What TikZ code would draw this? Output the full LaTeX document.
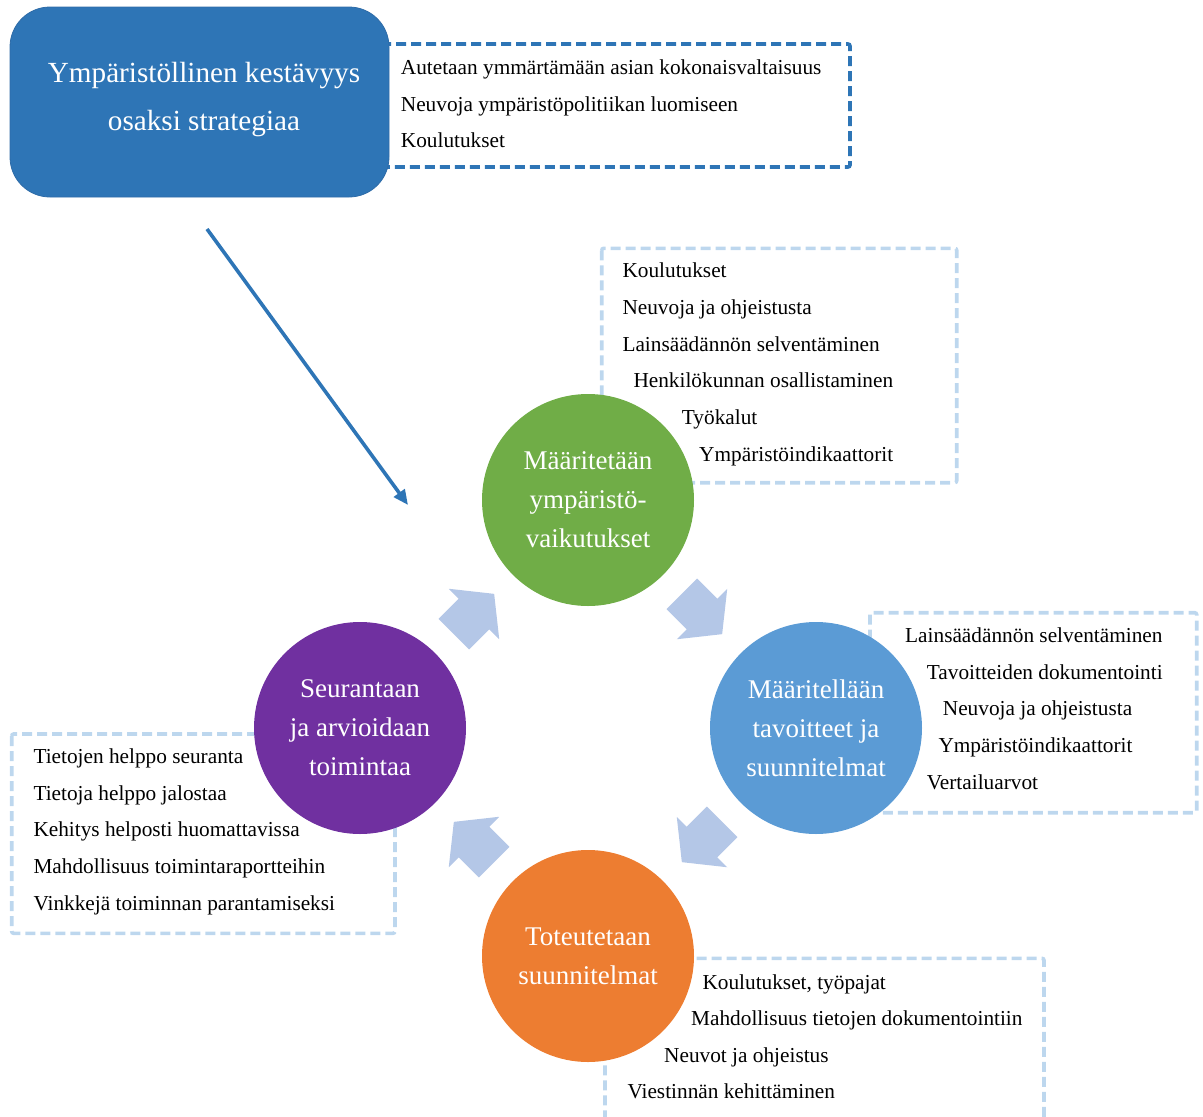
\documentclass[tikz,border=0pt]{standalone}
\usepackage{fontspec}
\setmainfont{Liberation Serif}
\usetikzlibrary{arrows.meta}
\definecolor{stratblue}{HTML}{2E75B6}
\definecolor{stratedge}{HTML}{2F6CA8}
\definecolor{lightdash}{HTML}{BDD7EE}
\definecolor{chevron}{HTML}{B4C7E7}
\definecolor{stgreen}{HTML}{70AD47}
\definecolor{stblue}{HTML}{5B9BD5}
\definecolor{stpurple}{HTML}{7030A0}
\definecolor{storange}{HTML}{ED7D31}
\begin{document}
\begin{tikzpicture}[x=1pt,y=-1pt,
  item/.style={anchor=base west, inner sep=0pt, font=\fontsize{21.3}{25}\selectfont},
  darkbox/.style={draw=stratblue, line width=3.6pt, dash pattern=on 10pt off 5pt, rounded corners=2pt},
  lightbox/.style={draw=lightdash, line width=3.6pt, dash pattern=on 10pt off 5pt, rounded corners=2pt},
  stage/.style={circle, minimum size=212pt, inner sep=0pt, text=white, align=center,
                font=\fontsize{27}{39}\selectfont},
  cyclearrow/.style={fill=chevron},
  flow/.style={draw=stratblue, line width=3.6pt, -{Triangle[length=15pt,width=13pt]}}]
\useasboundingbox (0,0) rectangle (1203,1117);
\clip (0,0) rectangle (1203,1117);

% dashed frames around the lists
\draw[darkbox] (380,44) rectangle (850,167);
\draw[lightbox] (601.7,248.3) rectangle (956.7,482.7);
\draw[lightbox] (870,612.7) rectangle (1196.7,812.7);
\draw[lightbox] (11.7,734) rectangle (395,933.3);
\draw[lightbox] (605,958.3) rectangle (1044,1150);

% strategy box
\node[fill=stratblue, draw=stratedge, line width=0.8pt, rounded corners=40pt,
      minimum width=379pt, minimum height=190pt, inner sep=0pt] (strategy) at (199.5,102) {};
\node[text=white, align=center, inner sep=0pt, font=\fontsize{29.2}{48}\selectfont]
      (strategytext) at (204,99.3) {Ympäristöllinen kestävyys\\osaksi strategiaa};

% arrow into the cycle
\coordinate (flowstart) at (207,229);
\coordinate (flowend) at (408,505);
\draw[flow] (flowstart) -- (flowend);

% block arrows between the stages
\foreach \cx/\cy/\ang in {474/614/45, 702/614/-45, 702/842/-135, 474/842/135}{
  \fill[cyclearrow, shift={(\cx,\cy)}, rotate=\ang]
    (-28.5,-21.6) -- (0,-21.6) -- (0,-35.7) -- (28.5,0) -- (0,35.7) -- (0,21.6) -- (-28.5,21.6) -- cycle;
}

% stages of the cycle
\node[stage, fill=stgreen] (define) at (588,500) {Määritetään\\ympäristö-\\vaikutukset};
\node[stage, fill=stblue] (plan) at (816,728) {Määritellään\\tavoitteet ja\\suunnitelmat};
\node[stage, fill=storange] (execute) at (588,956) {Toteutetaan\\suunnitelmat};
\node[stage, fill=stpurple] (review) at (360,728) {Seurantaan\\ja arvioidaan\\toimintaa};

% strategy list
\node[item] (s1) at (400.7,74) {Autetaan ymmärtämään asian kokonaisvaltaisuus};
\node[item] (s2) at (400.7,111) {Neuvoja ympäristöpolitiikan luomiseen};
\node[item] (s3) at (400.7,147.3) {Koulutukset};

% list for defining impacts
\node[item] (d1) at (622.3,277.7) {Koulutukset};
\node[item] (d2) at (622.3,314) {Neuvoja ja ohjeistusta};
\node[item] (d3) at (622.3,351) {Lainsäädännön selventäminen};
\node[item] (d4) at (633.3,387.7) {Henkilökunnan osallistaminen};
\node[item] (d5) at (681.7,424.3) {Työkalut};
\node[item] (d6) at (699,461) {Ympäristöindikaattorit};

% list for goals and plans
\node[item] (p1) at (905,642.7) {Lainsäädännön selventäminen};
\node[item] (p2) at (926.7,679) {Tavoitteiden dokumentointi};
\node[item] (p3) at (942.7,715.7) {Neuvoja ja ohjeistusta};
\node[item] (p4) at (938.3,752.7) {Ympäristöindikaattorit};
\node[item] (p5) at (926.7,789) {Vertailuarvot};

% list for follow-up
\node[item] (r1) at (33.3,763.3) {Tietojen helppo seuranta};
\node[item] (r2) at (33.3,800) {Tietoja helppo jalostaa};
\node[item] (r3) at (33.3,836.7) {Kehitys helposti huomattavissa};
\node[item] (r4) at (33.3,873.3) {Mahdollisuus toimintaraportteihin};
\node[item] (r5) at (33.3,910) {Vinkkejä toiminnan parantamiseksi};

% list for execution
\node[item] (e1) at (702.3,989) {Koulutukset, työpajat};
\node[item] (e2) at (691,1025.7) {Mahdollisuus tietojen dokumentointiin};
\node[item] (e3) at (664,1062) {Neuvot ja ohjeistus};
\node[item] (e4) at (627.3,1098.3) {Viestinnän kehittäminen};
\end{tikzpicture}
\end{document}
